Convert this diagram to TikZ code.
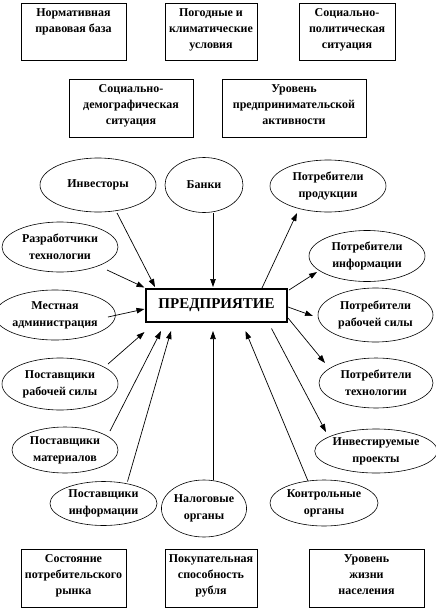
\documentclass[tikz,border=0pt]{standalone}
\usepackage{fontspec}
\setmainfont{Liberation Serif}
\usetikzlibrary{shapes.geometric,arrows.meta,calc}

\tikzset{
  faktor/.style={draw, rectangle, line width=0.8pt, inner sep=0pt, font=\fontsize{12}{16}\selectfont\bfseries},
  sreda/.style={draw, ellipse, line width=0.6pt, inner sep=0pt, align=center, font=\fontsize{12}{17}\selectfont\bfseries},
  predpr/.style={draw, rectangle, line width=2.4pt, minimum width=141pt, minimum height=33pt, inner sep=0pt, font=\fontsize{15}{16}\selectfont\bfseries},
  svyaz/.style={line width=0.7pt, -{Triangle[length=8pt,width=5.5pt]}}
}
\newcommand{\ftext}[3]{\parbox[c][#1pt][t]{#2pt}{\centering\rule{0pt}{13pt}#3}}

\begin{document}
\begin{tikzpicture}[x=1pt, y=-1pt]
\useasboundingbox (0,0) rectangle (436,611);

% Внешние факторы (верх)
\node[faktor] (norm) at (73.5,31.5) {\ftext{57}{105}{Нормативная\\правовая база}};
\node[faktor] (pogod) at (211,31.5) {\ftext{57}{92}{Погодные и\\климатические\\условия}};
\node[faktor] (spolit) at (347,31.5) {\ftext{57}{96}{Социально-\\политическая\\ситуация}};
\node[faktor] (sdemo) at (131,108) {\ftext{58}{124}{Социально-\\демографическая\\ситуация}};
\node[faktor] (upred) at (294,108) {\ftext{58}{144}{Уровень\\предпринимательской\\активности}};

% Внешние факторы (низ)
\node[faktor] (sost) at (73.5,578) {\ftext{58}{105}{Состояние\\потребительского\\рынка}};
\node[faktor] (pokup) at (211,578) {\ftext{58}{92}{Покупательная\\способность\\рубля}};
\node[faktor] (uroven) at (366.5,578) {\ftext{58}{115}{Уровень\\жизни\\населения}};

% Предприятие
\node[predpr] (ent) at (216.5,305.5) {ПРЕДПРИЯТИЕ};

% Субъекты окружения
\node[sreda, minimum width=116pt, minimum height=54pt] (inv) at (98,185) {Инвесторы};
\node[sreda, minimum width=78pt, minimum height=55pt] (bank) at (204,185) {Банки};
\node[sreda, minimum width=116pt, minimum height=52pt] (prod) at (328,186) {Потребители\\продукции};
\node[sreda, minimum width=116pt, minimum height=50pt] (razr) at (60,247) {Разработчики\\технологии};
\node[sreda, minimum width=116pt, minimum height=51pt] (pinf) at (367,256) {Потребители\\информации};
\node[sreda, minimum width=106pt, minimum height=50pt] (mest) at (55,315) {Местная\\администрация};
\node[sreda, minimum width=115pt, minimum height=54pt] (prab) at (375.5,315) {Потребители\\рабочей силы};
\node[sreda, minimum width=116pt, minimum height=52pt] (prs) at (60,384) {Поставщики\\рабочей силы};
\node[sreda, minimum width=114pt, minimum height=50pt] (ptech) at (376,383) {Потребители\\технологии};
\node[sreda, minimum width=106pt, minimum height=46pt] (pmat) at (65,450) {Поставщики\\материалов};
\node[sreda, minimum width=115pt, minimum height=44pt] (pinv) at (376,451) {Инвестируемые\\проекты};
\node[sreda, minimum width=107pt, minimum height=44pt] (pinfo) at (103.5,503.5) {Поставщики\\информации};
\node[sreda, minimum width=78pt, minimum height=57pt] (nal) at (204,508.5) {Налоговые\\органы};
\node[sreda, minimum width=108pt, minimum height=46pt] (kontr) at (324,503) {Контрольные\\органы};

% Входящие связи
\draw[svyaz] ($(inv)+(19,28)$) -- ($(ent)+(-61.5,-18.5)$);
\draw[svyaz] ($(bank)+(9,28)$) -- ($(ent)+(-3.5,-18.5)$);
\draw[svyaz] ($(razr)+(47,23)$) -- ($(ent)+(-72,-18)$);
\draw[svyaz] ($(mest)+(53,2)$) -- ($(ent)+(-72,3.5)$);
\draw[svyaz] ($(prs)+(48,-20)$) -- ($(ent)+(-72,26.5)$);
\draw[svyaz] ($(pmat)+(45,-19)$) -- ($(ent)+(-55.5,25.5)$);
\draw[svyaz] ($(pinfo)+(24,-22)$) -- ($(ent)+(-45.5,25.5)$);
\draw[svyaz] ($(nal)+(9,-28.5)$) -- ($(ent)+(-3.5,25.5)$);
\draw[svyaz] ($(kontr)+(-16,-22)$) -- ($(ent)+(29,25.5)$);

% Исходящие связи
\draw[svyaz] ($(ent)+(45.5,-17.5)$) -- ($(prod)+(-31,27)$);
\draw[svyaz] ($(ent)+(72.5,-15.5)$) -- ($(pinf)+(-50,16)$);
\draw[svyaz] ($(ent)+(71.5,1.5)$) -- ($(prab)+(-62.5,1)$);
\draw[svyaz] ($(ent)+(71.5,12.5)$) -- ($(ptech)+(-51,-20)$);
\draw[svyaz] ($(ent)+(55,23)$) -- ($(pinv)+(-50,-19)$);

\end{tikzpicture}
\end{document}
